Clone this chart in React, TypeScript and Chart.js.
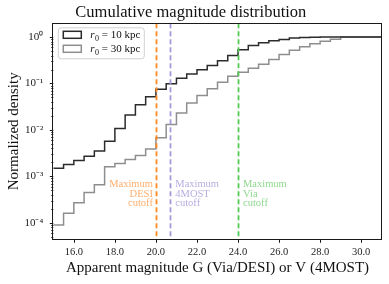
import React, { useEffect, useRef } from 'react';
import { Chart, registerables } from 'chart.js';

Chart.register(...registerables);

// ---- data ----
const BIN_EDGES = [
  15.0, 15.5, 16.0, 16.5, 17.0, 17.5, 18.0, 18.5, 19.0, 19.5, 20.0,
  20.5, 21.0, 21.5, 22.0, 22.5, 23.0, 23.5, 24.0, 24.5, 25.0, 25.5,
  26.0, 26.5, 27.0, 27.5, 28.0, 28.5, 29.0, 29.5, 30.0, 30.5, 31.0,
];
const R10_VALUES = [
  1.5e-3, 1.8e-3, 2.2e-3, 2.7e-3, 3.5e-3, 5.7e-3, 0.0107, 0.021, 0.035, 0.052,
  0.075, 0.099, 0.13, 0.16, 0.197, 0.245, 0.31, 0.40, 0.53, 0.66,
  0.75, 0.83, 0.89, 0.95, 0.98, 0.99, 1.0, 1.0, 1.0, 1.0, 1.0, 1.0,
];
const R30_VALUES = [
  8.9e-5, 1.6e-4, 2.7e-4, 4.5e-4, 6.6e-4, 1.6e-3, 1.9e-3, 2.3e-3, 2.8e-3, 3.9e-3,
  6.8e-3, 0.013, 0.023, 0.038, 0.055, 0.077, 0.106, 0.143, 0.175, 0.213,
  0.26, 0.33, 0.42, 0.52, 0.62, 0.72, 0.81, 0.90, 1.0, 1.0, 1.0, 1.0,
];
const SERIES_LABELS = ['r₀ = 10 kpc', 'r₀ = 30 kpc'];
const SERIES_COLORS = ['#2b2b2b', '#8e8e8e'];
const CUTOFF_MAGS = [20.0, 20.7, 24.0];
const CUTOFF_NAMES = ['DESI', '4MOST', 'Via'];
const CUTOFF_LINE_COLORS = ['#ff8a1f', '#a898d8', '#55c955'];
const CUTOFF_TEXT_COLORS = ['#ffae6e', '#b8acdf', '#8fd88f'];
const CUTOFF_TEXT_VALUE = 4.2e-4; // y anchor (middle line) of annotation text
const X_TICKS = [16, 18, 20, 22, 24, 26, 28, 30];
const Y_DECADES = [-4, -3, -2, -1, 0];
const TITLE = 'Cumulative magnitude distribution';
const X_TITLE = 'Apparent magnitude G (Via/DESI) or V (4MOST)';
const Y_TITLE = 'Normalized density';

const FONT = "'Liberation Serif', 'Times New Roman', serif";
const SUP: Record<string, string> = { '0': '⁰', '1': '¹', '2': '²', '3': '³', '4': '⁴', '-': '⁻' };

function stepPoints(values: number[]) {
  const pts = values.map((v, i) => ({ x: BIN_EDGES[i], y: v }));
  pts.push({ x: BIN_EDGES[values.length], y: values[values.length - 1] });
  return pts;
}

const decorPlugin = {
  id: 'decor',
  afterDatasetsDraw(chart: any) {
    const { ctx, chartArea: a, scales } = chart;
    const xs = scales.x;
    const ys = scales.y;
    ctx.save();
    // cutoff lines
    CUTOFF_MAGS.forEach((m, i) => {
      const px = Math.round(xs.getPixelForValue(m)) + 0.5;
      ctx.strokeStyle = CUTOFF_LINE_COLORS[i];
      ctx.lineWidth = 1.8;
      ctx.setLineDash([5, 3]);
      ctx.beginPath();
      ctx.moveTo(px, a.top);
      ctx.lineTo(px, a.bottom);
      ctx.stroke();
    });
    ctx.setLineDash([]);
    // annotation text
    ctx.font = `10.5px ${FONT}`;
    ctx.textBaseline = 'middle';
    const cy = ys.getPixelForValue(CUTOFF_TEXT_VALUE);
    CUTOFF_MAGS.forEach((m, i) => {
      const px = xs.getPixelForValue(m);
      const lines = ['Maximum', CUTOFF_NAMES[i], 'cutoff'];
      ctx.fillStyle = CUTOFF_TEXT_COLORS[i];
      const right = i === 0;
      ctx.textAlign = right ? 'right' : 'left';
      const tx = right ? px - 3 : px + 5;
      lines.forEach((t, k) => ctx.fillText(t, tx, cy + (k - 1) * 9.6));
    });
    // frame
    ctx.strokeStyle = '#1a1a1a';
    ctx.lineWidth = 1;
    ctx.strokeRect(Math.round(a.left) - 0.5, Math.round(a.top) + 0.5, Math.round(a.right - a.left) + 1, Math.round(a.bottom - a.top));
    // x ticks
    ctx.beginPath();
    X_TICKS.forEach((v) => {
      const px = Math.round(xs.getPixelForValue(v)) + 0.5;
      ctx.moveTo(px, a.bottom);
      ctx.lineTo(px, a.bottom + 3.5);
    });
    // y ticks (major and minor)
    Y_DECADES.forEach((d) => {
      for (let m = 1; m <= 9; m++) {
        const val = m * Math.pow(10, d);
        if (val < ys.min || val > ys.max) continue;
        const py = Math.round(ys.getPixelForValue(val)) + 0.5;
        ctx.moveTo(a.left, py);
        ctx.lineTo(a.left - (m === 1 ? 3.5 : 2), py);
      }
      for (let m = 5; m <= 9; m++) {
        const val = m * Math.pow(10, d - 1);
        if (d !== -4 || val < ys.min) continue;
        const py = Math.round(ys.getPixelForValue(val)) + 0.5;
        ctx.moveTo(a.left, py);
        ctx.lineTo(a.left - 2, py);
      }
    });
    ctx.stroke();
    // legend
    const lx = a.left + 5, ly = a.top + 4.5, lw = 86, lh = 31;
    ctx.beginPath();
    ctx.roundRect(lx, ly, lw, lh, 3);
    ctx.fillStyle = 'rgba(255,255,255,0.85)';
    ctx.fill();
    ctx.strokeStyle = '#d0d0d0';
    ctx.lineWidth = 1;
    ctx.stroke();
    chart.data.datasets.forEach((ds: any, i: number) => {
      const ey = ly + 7 + i * 14;
      ctx.strokeStyle = ds.borderColor;
      ctx.lineWidth = 1.5;
      ctx.strokeRect(lx + 5, ey - 3.5, 18, 7);
      const label: string = ds.label;
      ctx.fillStyle = '#111';
      ctx.textAlign = 'left';
      ctx.textBaseline = 'alphabetic';
      let x = lx + 32;
      const base = ey + 3.5;
      ctx.font = `italic 11px ${FONT}`;
      ctx.fillText(label[0], x, base);
      x += ctx.measureText(label[0]).width + 0.5;
      ctx.font = `8px ${FONT}`;
      ctx.fillText('0', x, base + 2.5);
      x += ctx.measureText('0').width;
      ctx.font = `11px ${FONT}`;
      ctx.fillText(label.slice(2), x, base);
    });
    ctx.restore();
  },
};

export default function App() {
  const ref = useRef<HTMLCanvasElement | null>(null);
  useEffect(() => {
    if (!ref.current) return;
    const chart = new Chart(ref.current, {
      type: 'line',
      data: {
        datasets: [
          {
            label: SERIES_LABELS[0],
            data: stepPoints(R10_VALUES),
            borderColor: SERIES_COLORS[0],
            borderWidth: 1.5,
            stepped: 'before',
            pointRadius: 0,
            fill: false,
          },
          {
            label: SERIES_LABELS[1],
            data: stepPoints(R30_VALUES),
            borderColor: SERIES_COLORS[1],
            borderWidth: 1.5,
            stepped: 'before',
            pointRadius: 0,
            fill: false,
          },
        ],
      },
      options: {
        animation: false,
        responsive: false,
        layout: { padding: { left: 0, right: 7.3, top: 0, bottom: 0 } },
        plugins: {
          legend: { display: false },
          tooltip: { enabled: false },
          title: {
            display: true,
            text: TITLE,
            color: '#111',
            font: { family: FONT, size: 16.5, weight: 'normal' },
            padding: { top: 3, bottom: 0.5 },
          },
        },
        scales: {
          x: {
            type: 'linear',
            min: 15,
            max: 31,
            grid: { display: false, drawTicks: false },
            border: { display: false },
            afterBuildTicks: (s: any) => {
              s.ticks = X_TICKS.map((v) => ({ value: v }));
            },
            afterFit: (s: any) => {
              s.height = 44.7;
            },
            ticks: {
              padding: 7.1,
              color: '#222',
              font: { family: FONT, size: 10.5 },
              callback: (v: any) => Number(v).toFixed(1),
            },
            title: {
              display: true,
              text: X_TITLE,
              color: '#111',
              font: { family: FONT, size: 15, weight: 'normal' },
              padding: { top: 0, bottom: 7 },
            },
          },
          y: {
            type: 'logarithmic',
            min: 4.4e-5,
            max: 1.98,
            grid: { display: false, drawTicks: false },
            border: { display: false },
            afterBuildTicks: (s: any) => {
              s.ticks = Y_DECADES.map((d) => ({ value: Math.pow(10, d), major: true }));
            },
            afterFit: (s: any) => {
              s.width = 53.3;
            },
            ticks: {
              padding: 10,
              autoSkip: false,
              color: '#222',
              font: { family: FONT, size: 11 },
              callback: (v: any) => {
                const e = Math.round(Math.log10(Number(v)));
                return '10' + String(e).split('').map((c) => SUP[c] || c).join('');
              },
            },
            title: {
              display: true,
              text: Y_TITLE,
              color: '#111',
              font: { family: FONT, size: 15, weight: 'normal' },
              padding: { top: 5, bottom: 0 },
            },
          },
        },
      },
      plugins: [decorPlugin],
    } as any);
    return () => chart.destroy();
  }, []);
  return (
    <div style={{ position: 'fixed', left: 0, top: 0, width: 389, height: 284, background: '#fff' }}>
      <canvas ref={ref} width={389} height={284} style={{ display: 'block' }} />
    </div>
  );
}
